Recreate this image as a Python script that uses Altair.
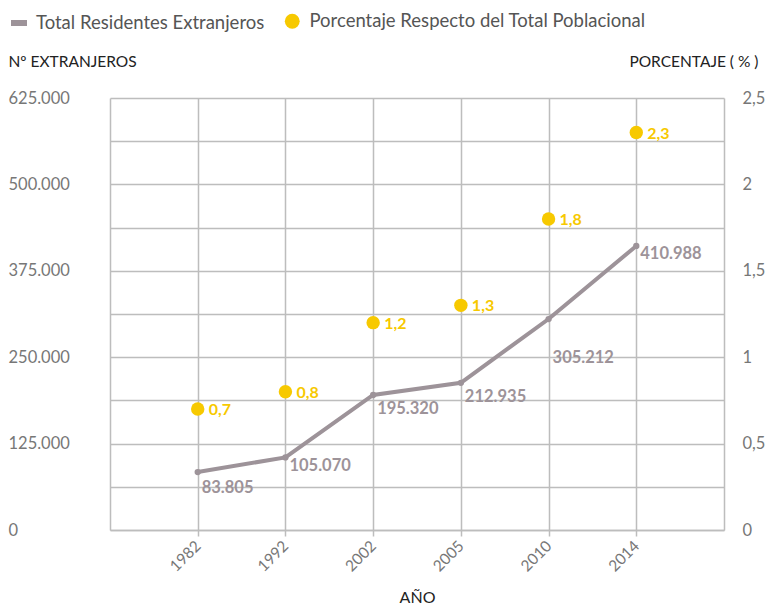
import altair as alt
import pandas as pd

years = ["1982", "1992", "2002", "2005", "2010", "2014"]
extranjeros = [83805, 105070, 195320, 212935, 305212, 410988]
porcentaje = [0.7, 0.8, 1.2, 1.3, 1.8, 2.3]
serie_linea = "Total Residentes Extranjeros"
serie_punto = "Porcentaje Respecto del Total Poblacional"

df = pd.DataFrame({
    "year": years,
    "ext": extranjeros,
    "pct": porcentaje,
    "s1": [serie_linea] * len(years),
    "s2": [serie_punto] * len(years),
})

FONT = "Lato"
LINE_C = "#9d9399"
DOT_C = "#f7c900"
GRID_C = "#bdbdbd"
AX_C = "#777777"

x_enc = alt.X(
    "year:O",
    scale=alt.Scale(type="point", padding=1),
    sort=years,
    axis=alt.Axis(
        title="AÑO", labelAngle=-45, labelAlign="right", labelBaseline="middle",
        labelPadding=7, labelFontSize=15.5, labelColor=AX_C, labelFont=FONT,
        ticks=True, tickSize=6, tickColor=GRID_C, tickWidth=1.5,
        grid=True, gridColor=GRID_C, gridWidth=1.5,
        domain=True, domainColor=GRID_C, domainWidth=1.5,
        titleFont=FONT, titleFontSize=16, titleFontWeight="normal", titleColor="#222222",
        titleY=67, titleBaseline="middle",
    ),
)

y_left = alt.Y(
    "ext:Q",
    scale=alt.Scale(domain=[0, 625000], nice=False),
    axis=alt.Axis(
        title="Nº EXTRANJEROS",
        values=list(range(0, 625001, 62500)),
        labelExpr="datum.value % 125000 == 0 ? replace(format(datum.value, ','), ',', '.') : ''",
        labelAlign="left", labelPadding=102, labelFontSize=16.5, labelColor=AX_C, labelFont=FONT,
        ticks=False, grid=True, gridColor=GRID_C, gridWidth=1.5,
        domain=True, domainColor=GRID_C, domainWidth=1.5,
        titleAngle=0, titleAlign="left", titleBaseline="middle", titleX=-102, titleY=-37,
        titleFont=FONT, titleFontSize=15.5, titleFontWeight="normal", titleColor="#222222",
    ),
)

y_right = alt.Y(
    "pct:Q",
    scale=alt.Scale(domain=[0, 2.5], nice=False),
    axis=alt.Axis(
        title="PORCENTAJE ( % )", orient="right",
        values=[0, 0.5, 1, 1.5, 2, 2.5],
        labelExpr="replace(toString(datum.value), '.', ',')",
        labelAlign="left", labelPadding=18, labelFontSize=16.5, labelColor=AX_C, labelFont=FONT,
        ticks=False, grid=False,
        domain=True, domainColor=GRID_C, domainWidth=1.5,
        titleAngle=0, titleAlign="right", titleBaseline="middle", titleX=34, titleY=-37,
        titleFont=FONT, titleFontSize=15.5, titleFontWeight="normal", titleColor="#222222",
    ),
)

base = alt.Chart(df)

line = base.mark_line(strokeWidth=4, point=alt.OverlayMarkDef(size=40, filled=True)).encode(
    x=x_enc,
    y=y_left,
    color=alt.Color(
        "s1:N",
        scale=alt.Scale(range=[LINE_C]),
        legend=alt.Legend(
            title=None, orient="none", legendX=-102, legendY=-86,
            symbolType="stroke", symbolStrokeWidth=6, symbolSize=256,
            labelFontSize=18.5, labelColor="#555555", labelFont=FONT, labelOffset=6,
            labelLimit=0,
        ),
    ),
)

label_groups = [(["1982"], 16), (["1992"], 9), (["2002", "2005"], 14), (["2010"], 39), (["2014"], 8)]
line_labels = []
for ys, dy in label_groups:
    line_labels.append(
        base.transform_filter(alt.FieldOneOfPredicate(field="year", oneOf=ys))
        .transform_calculate(lab="replace(format(datum.ext, ','), ',', '.')")
        .mark_text(align="left", baseline="middle", dx=4, dy=dy, fontSize=16.5,
                   fontWeight="bold", font=FONT, color=LINE_C)
        .encode(x=alt.X("year:O", sort=years), y=alt.Y("ext:Q"), text="lab:N")
    )

left = alt.layer(line, *line_labels)

dots = base.mark_circle(size=180, opacity=1).encode(
    x=alt.X("year:O", sort=years),
    y=y_right,
    fill=alt.Fill(
        "s2:N",
        scale=alt.Scale(range=[DOT_C]),
        legend=alt.Legend(
            title=None, orient="none", legendX=173, legendY=-86,
            symbolType="circle", symbolSize=220, symbolStrokeWidth=0,
            labelFontSize=18.5, labelColor="#555555", labelFont=FONT, labelOffset=8,
            labelLimit=0,
        ),
    ),
)

dot_labels = base.transform_calculate(
    lab="replace(format(datum.pct, '.1f'), '.', ',')"
).mark_text(align="left", baseline="middle", dx=11, dy=1, fontSize=16,
            fontWeight="bold", font=FONT, color=DOT_C).encode(
    x=alt.X("year:O", sort=years), y=alt.Y("pct:Q"), text="lab:N"
)

right = alt.layer(dots, dot_labels)

chart = alt.layer(left, right).resolve_scale(
    y="independent", color="independent", fill="independent"
).properties(
    width=614, height=432, background="white",
    padding={"top": 4, "left": 0, "right": 0, "bottom": 0},
).configure_view(stroke=None)

chart.save("out.html", embed_options={"renderer": "svg", "actions": False})
